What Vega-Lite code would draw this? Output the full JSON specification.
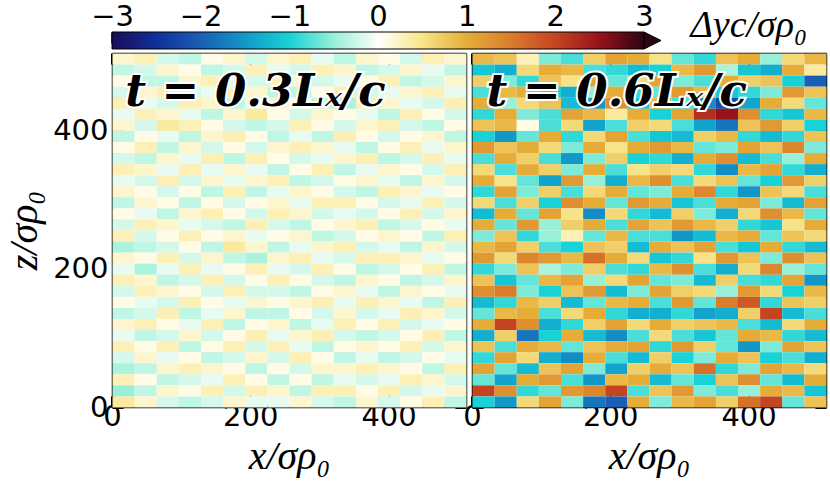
{
"$schema": "https://vega.github.io/schema/vega-lite/v6.json",
"background": "white",
"padding": {"left": 4, "top": 2, "right": 2, "bottom": 2},
"bounds": "flush",
"spacing": 4,
"config": {
  "view": {"stroke": null},
  "axis": {"zindex": 1, "domainColor": "black", "domainWidth": 1.5, "tickColor": "black", "grid": false, "labelFont": "DejaVu Sans", "labelFontSize": 29, "labelColor": "black", "titleFont": "Liberation Serif", "titleFontStyle": "italic", "titleFontWeight": "normal", "titleFontSize": 40, "titleColor": "black", "labelFlush": false, "labelOverlap": false}
},
"datasets": {
"L": [
{"x":16,"z":504,"v":0.2},{"x":48,"z":504,"v":0.3},{"x":80,"z":504,"v":-0.2},{"x":112,"z":504,"v":-0.3},{"x":144,"z":504,"v":0.1},{"x":176,"z":504,"v":0.2},{"x":208,"z":504,"v":-0.2},{"x":240,"z":504,"v":0.2},{"x":272,"z":504,"v":0.3},{"x":304,"z":504,"v":-0.1},{"x":336,"z":504,"v":-0.3},{"x":368,"z":504,"v":0.2},{"x":400,"z":504,"v":0.1},{"x":432,"z":504,"v":-0.2},{"x":464,"z":504,"v":0.3},{"x":496,"z":504,"v":0.2},
{"x":16,"z":488,"v":-0.3},{"x":48,"z":488,"v":-0.2},{"x":80,"z":488,"v":0.2},{"x":112,"z":488,"v":0.1},{"x":144,"z":488,"v":-0.3},{"x":176,"z":488,"v":-0.2},{"x":208,"z":488,"v":0.3},{"x":240,"z":488,"v":-0.1},{"x":272,"z":488,"v":-0.2},{"x":304,"z":488,"v":0.3},{"x":336,"z":488,"v":0.2},{"x":368,"z":488,"v":-0.3},{"x":400,"z":488,"v":-0.2},{"x":432,"z":488,"v":0.2},{"x":464,"z":488,"v":-0.1},{"x":496,"z":488,"v":-0.3},
{"x":16,"z":472,"v":0.1},{"x":48,"z":472,"v":-0.3},{"x":80,"z":472,"v":-0.3},{"x":112,"z":472,"v":0.2},{"x":144,"z":472,"v":0.3},{"x":176,"z":472,"v":-0.1},{"x":208,"z":472,"v":-0.2},{"x":240,"z":472,"v":0.3},{"x":272,"z":472,"v":0.2},{"x":304,"z":472,"v":-0.2},{"x":336,"z":472,"v":-0.1},{"x":368,"z":472,"v":0.1},{"x":400,"z":472,"v":0.3},{"x":432,"z":472,"v":-0.3},{"x":464,"z":472,"v":-0.2},{"x":496,"z":472,"v":0.2},
{"x":16,"z":456,"v":-0.2},{"x":48,"z":456,"v":0.2},{"x":80,"z":456,"v":0.3},{"x":112,"z":456,"v":-0.2},{"x":144,"z":456,"v":-0.1},{"x":176,"z":456,"v":0.3},{"x":208,"z":456,"v":0.2},{"x":240,"z":456,"v":-0.3},{"x":272,"z":456,"v":-0.3},{"x":304,"z":456,"v":0.1},{"x":336,"z":456,"v":0.3},{"x":368,"z":456,"v":-0.2},{"x":400,"z":456,"v":-0.1},{"x":432,"z":456,"v":0.2},{"x":464,"z":456,"v":0.3},{"x":496,"z":456,"v":-0.1},
{"x":16,"z":440,"v":0.3},{"x":48,"z":440,"v":-0.1},{"x":80,"z":440,"v":-0.2},{"x":112,"z":440,"v":0.3},{"x":144,"z":440,"v":0.2},{"x":176,"z":440,"v":-0.3},{"x":208,"z":440,"v":-0.1},{"x":240,"z":440,"v":0.2},{"x":272,"z":440,"v":0.1},{"x":304,"z":440,"v":-0.3},{"x":336,"z":440,"v":-0.4},{"x":368,"z":440,"v":0.3},{"x":400,"z":440,"v":0.2},{"x":432,"z":440,"v":-0.1},{"x":464,"z":440,"v":-0.2},{"x":496,"z":440,"v":0.3},
{"x":16,"z":424,"v":-0.1},{"x":48,"z":424,"v":0.3},{"x":80,"z":424,"v":0.2},{"x":112,"z":424,"v":-0.1},{"x":144,"z":424,"v":-0.3},{"x":176,"z":424,"v":0.2},{"x":208,"z":424,"v":0.4},{"x":240,"z":424,"v":0.1},{"x":272,"z":424,"v":-0.2},{"x":304,"z":424,"v":0.2},{"x":336,"z":424,"v":0.1},{"x":368,"z":424,"v":-0.1},{"x":400,"z":424,"v":-0.3},{"x":432,"z":424,"v":0.3},{"x":464,"z":424,"v":0.1},{"x":496,"z":424,"v":-0.2},
{"x":16,"z":408,"v":0.2},{"x":48,"z":408,"v":-0.2},{"x":80,"z":408,"v":0.4},{"x":112,"z":408,"v":0.3},{"x":144,"z":408,"v":0.1},{"x":176,"z":408,"v":-0.2},{"x":208,"z":408,"v":-0.3},{"x":240,"z":408,"v":-0.2},{"x":272,"z":408,"v":0.3},{"x":304,"z":408,"v":0.1},{"x":336,"z":408,"v":-0.2},{"x":368,"z":408,"v":0.2},{"x":400,"z":408,"v":0.3},{"x":432,"z":408,"v":-0.2},{"x":464,"z":408,"v":-0.3},{"x":496,"z":408,"v":0.1},
{"x":16,"z":392,"v":-0.3},{"x":48,"z":392,"v":0.1},{"x":80,"z":392,"v":-0.1},{"x":112,"z":392,"v":-0.3},{"x":144,"z":392,"v":0.2},{"x":176,"z":392,"v":0.3},{"x":208,"z":392,"v":0.1},{"x":240,"z":392,"v":-0.3},{"x":272,"z":392,"v":-0.1},{"x":304,"z":392,"v":-0.3},{"x":336,"z":392,"v":0.3},{"x":368,"z":392,"v":0.1},{"x":400,"z":392,"v":-0.2},{"x":432,"z":392,"v":0.1},{"x":464,"z":392,"v":0.2},{"x":496,"z":392,"v":-0.3},
{"x":16,"z":376,"v":0.1},{"x":48,"z":376,"v":0.3},{"x":80,"z":376,"v":-0.3},{"x":112,"z":376,"v":0.2},{"x":144,"z":376,"v":-0.2},{"x":176,"z":376,"v":0.1},{"x":208,"z":376,"v":-0.2},{"x":240,"z":376,"v":0.2},{"x":272,"z":376,"v":0.3},{"x":304,"z":376,"v":0.2},{"x":336,"z":376,"v":-0.1},{"x":368,"z":376,"v":-0.3},{"x":400,"z":376,"v":0.1},{"x":432,"z":376,"v":0.3},{"x":464,"z":376,"v":-0.1},{"x":496,"z":376,"v":0.2},
{"x":16,"z":360,"v":-0.2},{"x":48,"z":360,"v":-0.3},{"x":80,"z":360,"v":0.2},{"x":112,"z":360,"v":-0.1},{"x":144,"z":360,"v":0.3},{"x":176,"z":360,"v":-0.3},{"x":208,"z":360,"v":0.3},{"x":240,"z":360,"v":0.1},{"x":272,"z":360,"v":-0.2},{"x":304,"z":360,"v":-0.1},{"x":336,"z":360,"v":0.2},{"x":368,"z":360,"v":0.3},{"x":400,"z":360,"v":-0.3},{"x":432,"z":360,"v":-0.2},{"x":464,"z":360,"v":0.3},{"x":496,"z":360,"v":-0.1},
{"x":16,"z":344,"v":0.3},{"x":48,"z":344,"v":0.2},{"x":80,"z":344,"v":-0.1},{"x":112,"z":344,"v":0.3},{"x":144,"z":344,"v":-0.1},{"x":176,"z":344,"v":0.2},{"x":208,"z":344,"v":-0.1},{"x":240,"z":344,"v":-0.3},{"x":272,"z":344,"v":0.1},{"x":304,"z":344,"v":0.3},{"x":336,"z":344,"v":-0.3},{"x":368,"z":344,"v":-0.1},{"x":400,"z":344,"v":0.2},{"x":432,"z":344,"v":0.1},{"x":464,"z":344,"v":-0.2},{"x":496,"z":344,"v":0.3},
{"x":16,"z":328,"v":-0.1},{"x":48,"z":328,"v":-0.2},{"x":80,"z":328,"v":0.3},{"x":112,"z":328,"v":-0.2},{"x":144,"z":328,"v":0.2},{"x":176,"z":328,"v":-0.1},{"x":208,"z":328,"v":0.2},{"x":240,"z":328,"v":0.3},{"x":272,"z":328,"v":-0.3},{"x":304,"z":328,"v":-0.2},{"x":336,"z":328,"v":0.1},{"x":368,"z":328,"v":0.2},{"x":400,"z":328,"v":-0.1},{"x":432,"z":328,"v":-0.3},{"x":464,"z":328,"v":0.2},{"x":496,"z":328,"v":-0.2},
{"x":16,"z":312,"v":0.2},{"x":48,"z":312,"v":0.1},{"x":80,"z":312,"v":-0.2},{"x":112,"z":312,"v":0.1},{"x":144,"z":312,"v":-0.3},{"x":176,"z":312,"v":0.3},{"x":208,"z":312,"v":-0.3},{"x":240,"z":312,"v":-0.1},{"x":272,"z":312,"v":0.2},{"x":304,"z":312,"v":0.1},{"x":336,"z":312,"v":-0.2},{"x":368,"z":312,"v":-0.3},{"x":400,"z":312,"v":0.3},{"x":432,"z":312,"v":0.2},{"x":464,"z":312,"v":-0.1},{"x":496,"z":312,"v":0.1},
{"x":16,"z":296,"v":-0.3},{"x":48,"z":296,"v":0.2},{"x":80,"z":296,"v":0.1},{"x":112,"z":296,"v":-0.3},{"x":144,"z":296,"v":0.1},{"x":176,"z":296,"v":-0.2},{"x":208,"z":296,"v":0.1},{"x":240,"z":296,"v":0.2},{"x":272,"z":296,"v":-0.1},{"x":304,"z":296,"v":0.3},{"x":336,"z":296,"v":0.3},{"x":368,"z":296,"v":0.1},{"x":400,"z":296,"v":-0.2},{"x":432,"z":296,"v":-0.1},{"x":464,"z":296,"v":0.3},{"x":496,"z":296,"v":-0.2},
{"x":16,"z":280,"v":0.1},{"x":48,"z":280,"v":-0.1},{"x":80,"z":280,"v":-0.3},{"x":112,"z":280,"v":0.2},{"x":144,"z":280,"v":0.3},{"x":176,"z":280,"v":0.1},{"x":208,"z":280,"v":-0.2},{"x":240,"z":280,"v":0.3},{"x":272,"z":280,"v":0.2},{"x":304,"z":280,"v":-0.2},{"x":336,"z":280,"v":-0.1},{"x":368,"z":280,"v":-0.2},{"x":400,"z":280,"v":0.1},{"x":432,"z":280,"v":0.3},{"x":464,"z":280,"v":-0.2},{"x":496,"z":280,"v":0.2},
{"x":16,"z":264,"v":-0.2},{"x":48,"z":264,"v":0.3},{"x":80,"z":264,"v":0.2},{"x":112,"z":264,"v":-0.1},{"x":144,"z":264,"v":-0.2},{"x":176,"z":264,"v":-0.3},{"x":208,"z":264,"v":0.3},{"x":240,"z":264,"v":-0.2},{"x":272,"z":264,"v":-0.3},{"x":304,"z":264,"v":0.1},{"x":336,"z":264,"v":0.2},{"x":368,"z":264,"v":0.3},{"x":400,"z":264,"v":-0.3},{"x":432,"z":264,"v":-0.2},{"x":464,"z":264,"v":0.1},{"x":496,"z":264,"v":-0.1},
{"x":16,"z":248,"v":0.3},{"x":48,"z":248,"v":-0.2},{"x":80,"z":248,"v":0.1},{"x":112,"z":248,"v":0.3},{"x":144,"z":248,"v":0.1},{"x":176,"z":248,"v":0.2},{"x":208,"z":248,"v":-0.1},{"x":240,"z":248,"v":0.1},{"x":272,"z":248,"v":0.2},{"x":304,"z":248,"v":-0.3},{"x":336,"z":248,"v":-0.2},{"x":368,"z":248,"v":0.1},{"x":400,"z":248,"v":0.2},{"x":432,"z":248,"v":0.1},{"x":464,"z":248,"v":-0.3},{"x":496,"z":248,"v":0.3},
{"x":16,"z":232,"v":-0.4},{"x":48,"z":232,"v":-0.3},{"x":80,"z":232,"v":-0.2},{"x":112,"z":232,"v":0.1},{"x":144,"z":232,"v":-0.3},{"x":176,"z":232,"v":0.4},{"x":208,"z":232,"v":0.2},{"x":240,"z":232,"v":-0.3},{"x":272,"z":232,"v":-0.1},{"x":304,"z":232,"v":0.2},{"x":336,"z":232,"v":0.3},{"x":368,"z":232,"v":-0.2},{"x":400,"z":232,"v":-0.1},{"x":432,"z":232,"v":-0.3},{"x":464,"z":232,"v":0.2},{"x":496,"z":232,"v":-0.2},
{"x":16,"z":216,"v":0.2},{"x":48,"z":216,"v":0.1},{"x":80,"z":216,"v":0.3},{"x":112,"z":216,"v":-0.2},{"x":144,"z":216,"v":0.2},{"x":176,"z":216,"v":-0.3},{"x":208,"z":216,"v":-0.4},{"x":240,"z":216,"v":0.2},{"x":272,"z":216,"v":0.3},{"x":304,"z":216,"v":-0.1},{"x":336,"z":216,"v":-0.2},{"x":368,"z":216,"v":0.3},{"x":400,"z":216,"v":0.3},{"x":432,"z":216,"v":0.2},{"x":464,"z":216,"v":-0.1},{"x":496,"z":216,"v":0.1},
{"x":16,"z":200,"v":-0.1},{"x":48,"z":200,"v":-0.4},{"x":80,"z":200,"v":-0.1},{"x":112,"z":200,"v":0.3},{"x":144,"z":200,"v":-0.1},{"x":176,"z":200,"v":0.1},{"x":208,"z":200,"v":0.3},{"x":240,"z":200,"v":-0.1},{"x":272,"z":200,"v":-0.2},{"x":304,"z":200,"v":0.3},{"x":336,"z":200,"v":0.1},{"x":368,"z":200,"v":-0.3},{"x":400,"z":200,"v":-0.2},{"x":432,"z":200,"v":0.1},{"x":464,"z":200,"v":0.3},{"x":496,"z":200,"v":-0.3},
{"x":16,"z":184,"v":0.3},{"x":48,"z":184,"v":0.2},{"x":80,"z":184,"v":-0.3},{"x":112,"z":184,"v":-0.2},{"x":144,"z":184,"v":0.3},{"x":176,"z":184,"v":-0.2},{"x":208,"z":184,"v":0.1},{"x":240,"z":184,"v":0.3},{"x":272,"z":184,"v":0.1},{"x":304,"z":184,"v":-0.2},{"x":336,"z":184,"v":-0.3},{"x":368,"z":184,"v":0.2},{"x":400,"z":184,"v":0.1},{"x":432,"z":184,"v":-0.3},{"x":464,"z":184,"v":-0.2},{"x":496,"z":184,"v":0.2},
{"x":16,"z":168,"v":-0.2},{"x":48,"z":168,"v":0.3},{"x":80,"z":168,"v":0.2},{"x":112,"z":168,"v":0.1},{"x":144,"z":168,"v":-0.2},{"x":176,"z":168,"v":0.3},{"x":208,"z":168,"v":-0.2},{"x":240,"z":168,"v":-0.2},{"x":272,"z":168,"v":-0.3},{"x":304,"z":168,"v":0.1},{"x":336,"z":168,"v":0.2},{"x":368,"z":168,"v":-0.1},{"x":400,"z":168,"v":-0.3},{"x":432,"z":168,"v":0.2},{"x":464,"z":168,"v":0.1},{"x":496,"z":168,"v":-0.1},
{"x":16,"z":152,"v":0.1},{"x":48,"z":152,"v":-0.1},{"x":80,"z":152,"v":-0.2},{"x":112,"z":152,"v":0.3},{"x":144,"z":152,"v":0.1},{"x":176,"z":152,"v":-0.1},{"x":208,"z":152,"v":0.2},{"x":240,"z":152,"v":0.1},{"x":272,"z":152,"v":0.2},{"x":304,"z":152,"v":0.3},{"x":336,"z":152,"v":-0.1},{"x":368,"z":152,"v":0.3},{"x":400,"z":152,"v":0.2},{"x":432,"z":152,"v":-0.1},{"x":464,"z":152,"v":-0.3},{"x":496,"z":152,"v":0.3},
{"x":16,"z":136,"v":-0.3},{"x":48,"z":136,"v":-0.2},{"x":80,"z":136,"v":0.3},{"x":112,"z":136,"v":-0.3},{"x":144,"z":136,"v":-0.1},{"x":176,"z":136,"v":0.2},{"x":208,"z":136,"v":-0.3},{"x":240,"z":136,"v":-0.3},{"x":272,"z":136,"v":0.1},{"x":304,"z":136,"v":-0.2},{"x":336,"z":136,"v":0.2},{"x":368,"z":136,"v":-0.2},{"x":400,"z":136,"v":-0.1},{"x":432,"z":136,"v":0.3},{"x":464,"z":136,"v":0.2},{"x":496,"z":136,"v":-0.2},
{"x":16,"z":120,"v":0.2},{"x":48,"z":120,"v":0.3},{"x":80,"z":120,"v":0.1},{"x":112,"z":120,"v":-0.1},{"x":144,"z":120,"v":0.3},{"x":176,"z":120,"v":-0.3},{"x":208,"z":120,"v":0.1},{"x":240,"z":120,"v":0.2},{"x":272,"z":120,"v":-0.3},{"x":304,"z":120,"v":-0.1},{"x":336,"z":120,"v":0.3},{"x":368,"z":120,"v":0.1},{"x":400,"z":120,"v":0.3},{"x":432,"z":120,"v":-0.2},{"x":464,"z":120,"v":-0.1},{"x":496,"z":120,"v":0.1},
{"x":16,"z":104,"v":-0.1},{"x":48,"z":104,"v":-0.3},{"x":80,"z":104,"v":-0.2},{"x":112,"z":104,"v":0.2},{"x":144,"z":104,"v":-0.2},{"x":176,"z":104,"v":0.1},{"x":208,"z":104,"v":0.3},{"x":240,"z":104,"v":-0.1},{"x":272,"z":104,"v":0.2},{"x":304,"z":104,"v":0.3},{"x":336,"z":104,"v":-0.2},{"x":368,"z":104,"v":-0.3},{"x":400,"z":104,"v":-0.2},{"x":432,"z":104,"v":0.1},{"x":464,"z":104,"v":0.3},{"x":496,"z":104,"v":-0.3},
{"x":16,"z":88,"v":0.3},{"x":48,"z":88,"v":0.1},{"x":80,"z":88,"v":0.3},{"x":112,"z":88,"v":-0.3},{"x":144,"z":88,"v":0.1},{"x":176,"z":88,"v":0.3},{"x":208,"z":88,"v":-0.2},{"x":240,"z":88,"v":0.3},{"x":272,"z":88,"v":-0.1},{"x":304,"z":88,"v":-0.3},{"x":336,"z":88,"v":0.1},{"x":368,"z":88,"v":0.2},{"x":400,"z":88,"v":0.1},{"x":432,"z":88,"v":0.3},{"x":464,"z":88,"v":-0.2},{"x":496,"z":88,"v":0.2},
{"x":16,"z":72,"v":-0.2},{"x":48,"z":72,"v":0.2},{"x":80,"z":72,"v":-0.1},{"x":112,"z":72,"v":0.1},{"x":144,"z":72,"v":-0.3},{"x":176,"z":72,"v":-0.2},{"x":208,"z":72,"v":0.2},{"x":240,"z":72,"v":-0.2},{"x":272,"z":72,"v":0.3},{"x":304,"z":72,"v":0.1},{"x":336,"z":72,"v":-0.3},{"x":368,"z":72,"v":-0.1},{"x":400,"z":72,"v":-0.3},{"x":432,"z":72,"v":-0.2},{"x":464,"z":72,"v":0.1},{"x":496,"z":72,"v":-0.1},
{"x":16,"z":56,"v":-0.4},{"x":48,"z":56,"v":-0.3},{"x":80,"z":56,"v":0.2},{"x":112,"z":56,"v":0.3},{"x":144,"z":56,"v":0.2},{"x":176,"z":56,"v":0.1},{"x":208,"z":56,"v":-0.3},{"x":240,"z":56,"v":0.1},{"x":272,"z":56,"v":-0.2},{"x":304,"z":56,"v":0.2},{"x":336,"z":56,"v":0.2},{"x":368,"z":56,"v":0.3},{"x":400,"z":56,"v":0.2},{"x":432,"z":56,"v":0.1},{"x":464,"z":56,"v":-0.3},{"x":496,"z":56,"v":0.3},
{"x":16,"z":40,"v":0.3},{"x":48,"z":40,"v":0.1},{"x":80,"z":40,"v":-0.3},{"x":112,"z":40,"v":-0.2},{"x":144,"z":40,"v":-0.1},{"x":176,"z":40,"v":0.3},{"x":208,"z":40,"v":0.1},{"x":240,"z":40,"v":-0.3},{"x":272,"z":40,"v":0.1},{"x":304,"z":40,"v":-0.3},{"x":336,"z":40,"v":-0.1},{"x":368,"z":40,"v":-0.2},{"x":400,"z":40,"v":-0.1},{"x":432,"z":40,"v":0.3},{"x":464,"z":40,"v":0.2},{"x":496,"z":40,"v":-0.2},
{"x":16,"z":24,"v":-0.5},{"x":48,"z":24,"v":-0.3},{"x":80,"z":24,"v":0.2},{"x":112,"z":24,"v":0.1},{"x":144,"z":24,"v":0.3},{"x":176,"z":24,"v":-0.2},{"x":208,"z":24,"v":0.3},{"x":240,"z":24,"v":0.2},{"x":272,"z":24,"v":-0.3},{"x":304,"z":24,"v":0.3},{"x":336,"z":24,"v":0.3},{"x":368,"z":24,"v":0.1},{"x":400,"z":24,"v":0.3},{"x":432,"z":24,"v":-0.2},{"x":464,"z":24,"v":-0.1},{"x":496,"z":24,"v":0.2},
{"x":16,"z":8,"v":0.4},{"x":48,"z":8,"v":0.2},{"x":80,"z":8,"v":-0.2},{"x":112,"z":8,"v":-0.3},{"x":144,"z":8,"v":-0.2},{"x":176,"z":8,"v":0.2},{"x":208,"z":8,"v":-0.1},{"x":240,"z":8,"v":-0.1},{"x":272,"z":8,"v":0.2},{"x":304,"z":8,"v":-0.2},{"x":336,"z":8,"v":-0.3},{"x":368,"z":8,"v":0.2},{"x":400,"z":8,"v":-0.2},{"x":432,"z":8,"v":0.1},{"x":464,"z":8,"v":0.3},{"x":496,"z":8,"v":-0.3}
],
"R": [
{"x":16,"z":504,"v":0.9},{"x":48,"z":504,"v":0.8},{"x":80,"z":504,"v":0.3},{"x":112,"z":504,"v":-0.6},{"x":144,"z":504,"v":-0.8},{"x":176,"z":504,"v":0.7},{"x":208,"z":504,"v":1.1},{"x":240,"z":504,"v":1.0},{"x":272,"z":504,"v":0.5},{"x":304,"z":504,"v":-0.7},{"x":336,"z":504,"v":-0.9},{"x":368,"z":504,"v":0.8},{"x":400,"z":504,"v":1.0},{"x":432,"z":504,"v":-0.5},{"x":464,"z":504,"v":0.6},{"x":496,"z":504,"v":0.9},
{"x":16,"z":488,"v":-1.1},{"x":48,"z":488,"v":-1.3},{"x":80,"z":488,"v":0.6},{"x":112,"z":488,"v":1.0},{"x":144,"z":488,"v":0.9},{"x":176,"z":488,"v":-0.8},{"x":208,"z":488,"v":-0.9},{"x":240,"z":488,"v":-1.2},{"x":272,"z":488,"v":-1.0},{"x":304,"z":488,"v":0.9},{"x":336,"z":488,"v":1.2},{"x":368,"z":488,"v":-0.4},{"x":400,"z":488,"v":-1.1},{"x":432,"z":488,"v":-1.3},{"x":464,"z":488,"v":1.0},{"x":496,"z":488,"v":0.4},
{"x":16,"z":472,"v":0.7},{"x":48,"z":472,"v":-0.6},{"x":80,"z":472,"v":-0.9},{"x":112,"z":472,"v":0.8},{"x":144,"z":472,"v":0.5},{"x":176,"z":472,"v":1.1},{"x":208,"z":472,"v":-0.7},{"x":240,"z":472,"v":0.6},{"x":272,"z":472,"v":1.1},{"x":304,"z":472,"v":-0.6},{"x":336,"z":472,"v":-0.8},{"x":368,"z":472,"v":1.0},{"x":400,"z":472,"v":0.7},{"x":432,"z":472,"v":0.8},{"x":464,"z":472,"v":-1.0},{"x":496,"z":472,"v":-2.0},
{"x":16,"z":456,"v":-0.8},{"x":48,"z":456,"v":0.9},{"x":80,"z":456,"v":1.0},{"x":112,"z":456,"v":-1.0},{"x":144,"z":456,"v":-1.3},{"x":176,"z":456,"v":-0.5},{"x":208,"z":456,"v":1.0},{"x":240,"z":456,"v":-0.9},{"x":272,"z":456,"v":-0.7},{"x":304,"z":456,"v":1.2},{"x":336,"z":456,"v":0.9},{"x":368,"z":456,"v":-1.1},{"x":400,"z":456,"v":-0.9},{"x":432,"z":456,"v":-0.6},{"x":464,"z":456,"v":1.2},{"x":496,"z":456,"v":0.8},
{"x":16,"z":440,"v":1.0},{"x":48,"z":440,"v":-0.5},{"x":80,"z":440,"v":0.6},{"x":112,"z":440,"v":0.8},{"x":144,"z":440,"v":-1.2},{"x":176,"z":440,"v":-1.5},{"x":208,"z":440,"v":1.3},{"x":240,"z":440,"v":-1.1},{"x":272,"z":440,"v":0.9},{"x":304,"z":440,"v":-0.8},{"x":336,"z":440,"v":-1.6},{"x":368,"z":440,"v":-2.2},{"x":400,"z":440,"v":-1.4},{"x":432,"z":440,"v":1.0},{"x":464,"z":440,"v":0.6},{"x":496,"z":440,"v":-0.7},
{"x":16,"z":424,"v":-0.9},{"x":48,"z":424,"v":1.0},{"x":80,"z":424,"v":-0.6},{"x":112,"z":424,"v":-0.8},{"x":144,"z":424,"v":1.1},{"x":176,"z":424,"v":0.9},{"x":208,"z":424,"v":0.4},{"x":240,"z":424,"v":1.0},{"x":272,"z":424,"v":-1.0},{"x":304,"z":424,"v":1.1},{"x":336,"z":424,"v":2.2},{"x":368,"z":424,"v":2.5},{"x":400,"z":424,"v":1.3},{"x":432,"z":424,"v":-0.9},{"x":464,"z":424,"v":-1.1},{"x":496,"z":424,"v":0.9},
{"x":16,"z":408,"v":0.8},{"x":48,"z":408,"v":0.9},{"x":80,"z":408,"v":0.1},{"x":112,"z":408,"v":-0.8},{"x":144,"z":408,"v":0.6},{"x":176,"z":408,"v":-1.4},{"x":208,"z":408,"v":-0.8},{"x":240,"z":408,"v":0.7},{"x":272,"z":408,"v":0.6},{"x":304,"z":408,"v":-0.8},{"x":336,"z":408,"v":-1.4},{"x":368,"z":408,"v":-1.8},{"x":400,"z":408,"v":0.8},{"x":432,"z":408,"v":1.2},{"x":464,"z":408,"v":0.7},{"x":496,"z":408,"v":-1.0},
{"x":16,"z":392,"v":-1.0},{"x":48,"z":392,"v":-1.5},{"x":80,"z":392,"v":-0.7},{"x":112,"z":392,"v":1.0},{"x":144,"z":392,"v":-0.9},{"x":176,"z":392,"v":0.6},{"x":208,"z":392,"v":1.1},{"x":240,"z":392,"v":-0.8},{"x":272,"z":392,"v":-1.1},{"x":304,"z":392,"v":-1.2},{"x":336,"z":392,"v":0.7},{"x":368,"z":392,"v":0.9},{"x":400,"z":392,"v":-0.9},{"x":432,"z":392,"v":-1.2},{"x":464,"z":392,"v":-0.9},{"x":496,"z":392,"v":0.8},
{"x":16,"z":376,"v":1.2},{"x":48,"z":376,"v":0.8},{"x":80,"z":376,"v":1.0},{"x":112,"z":376,"v":0.6},{"x":144,"z":376,"v":-0.6},{"x":176,"z":376,"v":1.0},{"x":208,"z":376,"v":0.5},{"x":240,"z":376,"v":1.0},{"x":272,"z":376,"v":1.2},{"x":304,"z":376,"v":0.9},{"x":336,"z":376,"v":-0.7},{"x":368,"z":376,"v":-0.6},{"x":400,"z":376,"v":1.1},{"x":432,"z":376,"v":0.8},{"x":464,"z":376,"v":1.4},{"x":496,"z":376,"v":-0.6},
{"x":16,"z":360,"v":-0.8},{"x":48,"z":360,"v":1.0},{"x":80,"z":360,"v":0.7},{"x":112,"z":360,"v":-0.8},{"x":144,"z":360,"v":-1.5},{"x":176,"z":360,"v":-0.6},{"x":208,"z":360,"v":0.7},{"x":240,"z":360,"v":-1.0},{"x":272,"z":360,"v":-0.9},{"x":304,"z":360,"v":-1.3},{"x":336,"z":360,"v":1.0},{"x":368,"z":360,"v":1.3},{"x":400,"z":360,"v":-1.2},{"x":432,"z":360,"v":-0.8},{"x":464,"z":360,"v":-0.5},{"x":496,"z":360,"v":1.0},
{"x":16,"z":344,"v":0.6},{"x":48,"z":344,"v":-0.8},{"x":80,"z":344,"v":1.0},{"x":112,"z":344,"v":0.7},{"x":144,"z":344,"v":-0.6},{"x":176,"z":344,"v":1.0},{"x":208,"z":344,"v":-0.8},{"x":240,"z":344,"v":0.5},{"x":272,"z":344,"v":0.7},{"x":304,"z":344,"v":0.6},{"x":336,"z":344,"v":-0.9},{"x":368,"z":344,"v":-1.6},{"x":400,"z":344,"v":0.9},{"x":432,"z":344,"v":1.1},{"x":464,"z":344,"v":-0.9},{"x":496,"z":344,"v":-1.3},
{"x":16,"z":328,"v":1.0},{"x":48,"z":328,"v":0.5},{"x":80,"z":328,"v":-0.7},{"x":112,"z":328,"v":-1.4},{"x":144,"z":328,"v":1.2},{"x":176,"z":328,"v":-0.5},{"x":208,"z":328,"v":-1.3},{"x":240,"z":328,"v":0.9},{"x":272,"z":328,"v":1.3},{"x":304,"z":328,"v":-0.8},{"x":336,"z":328,"v":0.6},{"x":368,"z":328,"v":0.8},{"x":400,"z":328,"v":-0.7},{"x":432,"z":328,"v":-1.0},{"x":464,"z":328,"v":1.2},{"x":496,"z":328,"v":0.7},
{"x":16,"z":312,"v":-0.9},{"x":48,"z":312,"v":1.1},{"x":80,"z":312,"v":-0.6},{"x":112,"z":312,"v":0.7},{"x":144,"z":312,"v":-0.8},{"x":176,"z":312,"v":0.6},{"x":208,"z":312,"v":1.0},{"x":240,"z":312,"v":-0.7},{"x":272,"z":312,"v":-0.6},{"x":304,"z":312,"v":1.0},{"x":336,"z":312,"v":1.4},{"x":368,"z":312,"v":-0.9},{"x":400,"z":312,"v":-1.5},{"x":432,"z":312,"v":0.8},{"x":464,"z":312,"v":0.6},{"x":496,"z":312,"v":-0.8},
{"x":16,"z":296,"v":0.6},{"x":48,"z":296,"v":-0.8},{"x":80,"z":296,"v":0.7},{"x":112,"z":296,"v":-1.0},{"x":144,"z":296,"v":1.3},{"x":176,"z":296,"v":1.0},{"x":208,"z":296,"v":-0.7},{"x":240,"z":296,"v":1.2},{"x":272,"z":296,"v":1.0},{"x":304,"z":296,"v":-1.1},{"x":336,"z":296,"v":-0.8},{"x":368,"z":296,"v":1.0},{"x":400,"z":296,"v":1.1},{"x":432,"z":296,"v":-0.6},{"x":464,"z":296,"v":-1.2},{"x":496,"z":296,"v":1.1},
{"x":16,"z":280,"v":-1.2},{"x":48,"z":280,"v":1.0},{"x":80,"z":280,"v":-0.7},{"x":112,"z":280,"v":1.1},{"x":144,"z":280,"v":0.5},{"x":176,"z":280,"v":-1.6},{"x":208,"z":280,"v":0.6},{"x":240,"z":280,"v":-0.9},{"x":272,"z":280,"v":-1.2},{"x":304,"z":280,"v":0.7},{"x":336,"z":280,"v":-0.6},{"x":368,"z":280,"v":-1.3},{"x":400,"z":280,"v":0.6},{"x":432,"z":280,"v":1.3},{"x":464,"z":280,"v":0.9},{"x":496,"z":280,"v":-0.7},
{"x":16,"z":264,"v":1.0},{"x":48,"z":264,"v":-0.7},{"x":80,"z":264,"v":1.2},{"x":112,"z":264,"v":-0.5},{"x":144,"z":264,"v":0.7},{"x":176,"z":264,"v":1.0},{"x":208,"z":264,"v":-0.8},{"x":240,"z":264,"v":1.1},{"x":272,"z":264,"v":0.8},{"x":304,"z":264,"v":1.2},{"x":336,"z":264,"v":0.9},{"x":368,"z":264,"v":0.7},{"x":400,"z":264,"v":-0.9},{"x":432,"z":264,"v":-1.1},{"x":464,"z":264,"v":0.5},{"x":496,"z":264,"v":1.0},
{"x":16,"z":248,"v":-0.6},{"x":48,"z":248,"v":0.8},{"x":80,"z":248,"v":-0.9},{"x":112,"z":248,"v":-0.5},{"x":144,"z":248,"v":0.3},{"x":176,"z":248,"v":-0.7},{"x":208,"z":248,"v":0.9},{"x":240,"z":248,"v":-0.8},{"x":272,"z":248,"v":-0.8},{"x":304,"z":248,"v":-1.5},{"x":336,"z":248,"v":-1.2},{"x":368,"z":248,"v":0.9},{"x":400,"z":248,"v":1.0},{"x":432,"z":248,"v":-0.7},{"x":464,"z":248,"v":0.8},{"x":496,"z":248,"v":0.6},
{"x":16,"z":232,"v":0.9},{"x":48,"z":232,"v":1.1},{"x":80,"z":232,"v":0.7},{"x":112,"z":232,"v":-0.8},{"x":144,"z":232,"v":-1.0},{"x":176,"z":232,"v":0.8},{"x":208,"z":232,"v":0.7},{"x":240,"z":232,"v":-1.2},{"x":272,"z":232,"v":1.0},{"x":304,"z":232,"v":0.8},{"x":336,"z":232,"v":1.1},{"x":368,"z":232,"v":-0.8},{"x":400,"z":232,"v":-1.1},{"x":432,"z":232,"v":1.0},{"x":464,"z":232,"v":-0.9},{"x":496,"z":232,"v":-1.2},
{"x":16,"z":216,"v":1.2},{"x":48,"z":216,"v":0.6},{"x":80,"z":216,"v":1.4},{"x":112,"z":216,"v":1.2},{"x":144,"z":216,"v":0.9},{"x":176,"z":216,"v":1.6},{"x":208,"z":216,"v":1.0},{"x":240,"z":216,"v":0.6},{"x":272,"z":216,"v":-1.1},{"x":304,"z":216,"v":-0.9},{"x":336,"z":216,"v":0.5},{"x":368,"z":216,"v":1.2},{"x":400,"z":216,"v":0.8},{"x":432,"z":216,"v":-0.6},{"x":464,"z":216,"v":1.3},{"x":496,"z":216,"v":0.8},
{"x":16,"z":200,"v":-0.9},{"x":48,"z":200,"v":-0.6},{"x":80,"z":200,"v":0.8},{"x":112,"z":200,"v":-0.4},{"x":144,"z":200,"v":-0.6},{"x":176,"z":200,"v":0.7},{"x":208,"z":200,"v":-0.8},{"x":240,"z":200,"v":-0.9},{"x":272,"z":200,"v":0.9},{"x":304,"z":200,"v":1.3},{"x":336,"z":200,"v":-0.8},{"x":368,"z":200,"v":-1.3},{"x":400,"z":200,"v":0.6},{"x":432,"z":200,"v":1.4},{"x":464,"z":200,"v":-0.5},{"x":496,"z":200,"v":-0.7},
{"x":16,"z":184,"v":0.8},{"x":48,"z":184,"v":-1.1},{"x":80,"z":184,"v":-0.7},{"x":112,"z":184,"v":0.9},{"x":144,"z":184,"v":1.1},{"x":176,"z":184,"v":-0.5},{"x":208,"z":184,"v":0.6},{"x":240,"z":184,"v":1.1},{"x":272,"z":184,"v":-0.7},{"x":304,"z":184,"v":-0.6},{"x":336,"z":184,"v":-1.2},{"x":368,"z":184,"v":0.7},{"x":400,"z":184,"v":-0.8},{"x":432,"z":184,"v":-0.9},{"x":464,"z":184,"v":1.1},{"x":496,"z":184,"v":-1.5},
{"x":16,"z":168,"v":1.3},{"x":48,"z":168,"v":1.5},{"x":80,"z":168,"v":-0.6},{"x":112,"z":168,"v":-1.0},{"x":144,"z":168,"v":0.8},{"x":176,"z":168,"v":1.2},{"x":208,"z":168,"v":-1.2},{"x":240,"z":168,"v":-0.6},{"x":272,"z":168,"v":1.1},{"x":304,"z":168,"v":0.7},{"x":336,"z":168,"v":0.6},{"x":368,"z":168,"v":-0.5},{"x":400,"z":168,"v":1.2},{"x":432,"z":168,"v":0.6},{"x":464,"z":168,"v":-1.0},{"x":496,"z":168,"v":0.9},
{"x":16,"z":152,"v":-1.2},{"x":48,"z":152,"v":-0.9},{"x":80,"z":152,"v":0.9},{"x":112,"z":152,"v":0.7},{"x":144,"z":152,"v":-1.2},{"x":176,"z":152,"v":-0.7},{"x":208,"z":152,"v":0.9},{"x":240,"z":152,"v":1.0},{"x":272,"z":152,"v":-0.8},{"x":304,"z":152,"v":1.2},{"x":336,"z":152,"v":-0.7},{"x":368,"z":152,"v":1.5},{"x":400,"z":152,"v":1.8},{"x":432,"z":152,"v":-0.9},{"x":464,"z":152,"v":0.8},{"x":496,"z":152,"v":0.7},
{"x":16,"z":136,"v":-0.7},{"x":48,"z":136,"v":0.9},{"x":80,"z":136,"v":1.0},{"x":112,"z":136,"v":-0.8},{"x":144,"z":136,"v":0.6},{"x":176,"z":136,"v":1.0},{"x":208,"z":136,"v":-0.9},{"x":240,"z":136,"v":-1.3},{"x":272,"z":136,"v":-1.3},{"x":304,"z":136,"v":-0.9},{"x":336,"z":136,"v":-1.4},{"x":368,"z":136,"v":-1.3},{"x":400,"z":136,"v":0.7},{"x":432,"z":136,"v":2.0},{"x":464,"z":136,"v":-1.2},{"x":496,"z":136,"v":-0.8},
{"x":16,"z":120,"v":1.0},{"x":48,"z":120,"v":2.0},{"x":80,"z":120,"v":1.3},{"x":112,"z":120,"v":-1.3},{"x":144,"z":120,"v":-0.9},{"x":176,"z":120,"v":0.7},{"x":208,"z":120,"v":1.1},{"x":240,"z":120,"v":0.6},{"x":272,"z":120,"v":1.0},{"x":304,"z":120,"v":0.7},{"x":336,"z":120,"v":0.8},{"x":368,"z":120,"v":0.9},{"x":400,"z":120,"v":-0.8},{"x":432,"z":120,"v":-1.2},{"x":464,"z":120,"v":0.6},{"x":496,"z":120,"v":1.0},
{"x":16,"z":104,"v":-1.3},{"x":48,"z":104,"v":0.7},{"x":80,"z":104,"v":-1.8},{"x":112,"z":104,"v":-1.0},{"x":144,"z":104,"v":1.0},{"x":176,"z":104,"v":-1.2},{"x":208,"z":104,"v":-1.6},{"x":240,"z":104,"v":-0.8},{"x":272,"z":104,"v":0.6},{"x":304,"z":104,"v":-0.8},{"x":336,"z":104,"v":-1.1},{"x":368,"z":104,"v":-0.7},{"x":400,"z":104,"v":1.0},{"x":432,"z":104,"v":0.9},{"x":464,"z":104,"v":-0.9},{"x":496,"z":104,"v":-1.2},
{"x":16,"z":88,"v":0.8},{"x":48,"z":88,"v":-0.8},{"x":80,"z":88,"v":1.0},{"x":112,"z":88,"v":0.9},{"x":144,"z":88,"v":-0.7},{"x":176,"z":88,"v":0.8},{"x":208,"z":88,"v":1.0},{"x":240,"z":88,"v":1.1},{"x":272,"z":88,"v":-0.9},{"x":304,"z":88,"v":1.2},{"x":336,"z":88,"v":0.7},{"x":368,"z":88,"v":-0.7},{"x":400,"z":88,"v":-1.5},{"x":432,"z":88,"v":-0.6},{"x":464,"z":88,"v":1.1},{"x":496,"z":88,"v":0.8},
{"x":16,"z":72,"v":-0.9},{"x":48,"z":72,"v":1.1},{"x":80,"z":72,"v":0.6},{"x":112,"z":72,"v":-1.3},{"x":144,"z":72,"v":-1.6},{"x":176,"z":72,"v":1.0},{"x":208,"z":72,"v":-0.8},{"x":240,"z":72,"v":-1.2},{"x":272,"z":72,"v":0.7},{"x":304,"z":72,"v":-1.0},{"x":336,"z":72,"v":-0.6},{"x":368,"z":72,"v":1.0},{"x":400,"z":72,"v":0.8},{"x":432,"z":72,"v":-1.0},{"x":464,"z":72,"v":-0.8},{"x":496,"z":72,"v":-1.3},
{"x":16,"z":56,"v":1.1},{"x":48,"z":56,"v":-0.7},{"x":80,"z":56,"v":-1.2},{"x":112,"z":56,"v":0.8},{"x":144,"z":56,"v":1.1},{"x":176,"z":56,"v":-0.6},{"x":208,"z":56,"v":-1.4},{"x":240,"z":56,"v":0.7},{"x":272,"z":56,"v":1.0},{"x":304,"z":56,"v":0.8},{"x":336,"z":56,"v":1.6},{"x":368,"z":56,"v":-0.9},{"x":400,"z":56,"v":-0.6},{"x":432,"z":56,"v":1.1},{"x":464,"z":56,"v":0.9},{"x":496,"z":56,"v":0.6},
{"x":16,"z":40,"v":-0.7},{"x":48,"z":40,"v":-1.4},{"x":80,"z":40,"v":1.0},{"x":112,"z":40,"v":1.2},{"x":144,"z":40,"v":-0.8},{"x":176,"z":40,"v":-1.5},{"x":208,"z":40,"v":0.9},{"x":240,"z":40,"v":1.0},{"x":272,"z":40,"v":-1.2},{"x":304,"z":40,"v":-0.7},{"x":336,"z":40,"v":-1.0},{"x":368,"z":40,"v":0.8},{"x":400,"z":40,"v":1.3},{"x":432,"z":40,"v":-0.7},{"x":464,"z":40,"v":-1.2},{"x":496,"z":40,"v":1.0},
{"x":16,"z":24,"v":2.0},{"x":48,"z":24,"v":1.3},{"x":80,"z":24,"v":-0.9},{"x":112,"z":24,"v":-0.7},{"x":144,"z":24,"v":1.2},{"x":176,"z":24,"v":1.4},{"x":208,"z":24,"v":2.0},{"x":240,"z":24,"v":-0.8},{"x":272,"z":24,"v":0.8},{"x":304,"z":24,"v":1.2},{"x":336,"z":24,"v":-0.6},{"x":368,"z":24,"v":-0.8},{"x":400,"z":24,"v":-0.5},{"x":432,"z":24,"v":1.0},{"x":464,"z":24,"v":0.9},{"x":496,"z":24,"v":-1.1},
{"x":16,"z":8,"v":-1.0},{"x":48,"z":8,"v":-1.5},{"x":80,"z":8,"v":0.6},{"x":112,"z":8,"v":1.1},{"x":144,"z":8,"v":-0.6},{"x":176,"z":8,"v":-1.8},{"x":208,"z":8,"v":-2.0},{"x":240,"z":8,"v":1.0},{"x":272,"z":8,"v":-0.6},{"x":304,"z":8,"v":0.9},{"x":336,"z":8,"v":1.1},{"x":368,"z":8,"v":0.7},{"x":400,"z":8,"v":1.6},{"x":432,"z":8,"v":2.0},{"x":464,"z":8,"v":-0.7},{"x":496,"z":8,"v":0.8}
]
},
"vconcat": [
  {
    "width": 532, "height": 17,
    "layer": [
      {
        "data": {"values": [{"a": -3, "b": 3}]},
        "mark": {"type": "rect", "stroke": "black", "strokeWidth": 1,
          "fill": {"gradient": "linear", "x1": 0, "x2": 1, "y1": 0, "y2": 0, "stops": [
            {"offset": 0, "color": "#1b0c5c"}, {"offset": 0.0833, "color": "#10309a"}, {"offset": 0.1667, "color": "#1a5fb5"}, {"offset": 0.25, "color": "#1198c9"}, {"offset": 0.3333, "color": "#18d2d8"}, {"offset": 0.4167, "color": "#98f0d8"}, {"offset": 0.4833, "color": "#e8fbf0"}, {"offset": 0.5, "color": "#ffffff"}, {"offset": 0.5167, "color": "#fffbe4"}, {"offset": 0.5833, "color": "#f8e488"}, {"offset": 0.6667, "color": "#e5ad37"}, {"offset": 0.75, "color": "#da7c2c"}, {"offset": 0.8333, "color": "#c44422"}, {"offset": 0.9167, "color": "#98121a"}, {"offset": 1, "color": "#2a0512"}]}},
        "encoding": {
          "x": {"field": "a", "type": "quantitative", "scale": {"domain": [-3, 3], "nice": false, "zero": false},
            "axis": {"orient": "top", "values": [-3,-2,-1,0,1,2,3], "format": "d", "labelOverlap": false, "domain": false,
              "tickSize": -11, "tickWidth": 2.5, "tickColor": "black", "labelPadding": 12,
              "title": "Δyc/σρ₀", "titleFontSize": 38, "titleX": 578, "titleY": 4, "titleAlign": "left", "titleBaseline": "alphabetic", "titleAngle": 0}},
          "x2": {"field": "b"},
          "y": {"datum": 0, "type": "quantitative", "scale": {"domain": [0, 1], "nice": false, "zero": false}, "axis": null},
          "y2": {"datum": 1}
        }
      },
      {
        "data": {"values": [{"c": 3.096}]},
        "mark": {"type": "point", "shape": "M -1 -1 L 1 0 L -1 1 Z", "filled": true, "fill": "#2a0512", "stroke": "black", "strokeWidth": 1, "size": 289, "opacity": 1},
        "encoding": {
          "x": {"field": "c", "type": "quantitative", "scale": {"domain": [-3, 3], "nice": false, "zero": false},
            "axis": {"orient": "bottom", "offset": -17, "values": [-2.8,-2.6,-2.4,-2.2,-1.8,-1.6,-1.4,-1.2,-0.8,-0.6,-0.4,-0.2,0.2,0.4,0.6,0.8,1.2,1.4,1.6,1.8,2.2,2.4,2.6,2.8], "labels": false, "domain": false, "tickSize": 6, "tickWidth": 1.5, "tickColor": "black", "title": null}},
          "y": {"datum": 0.5, "type": "quantitative"}
        }
      }
    ],
    "resolve": {"scale": {"x": "independent"}}
  },
  {
    "bounds": "flush",
    "spacing": 6,
    "hconcat": [
      {
        "width": 354, "height": 354,
        "layer": [
          {
            "data": {"name": "L"},
            "mark": {"type": "rect"},
            "encoding": {
              "x": {"field": "x", "type": "quantitative", "bin": {"step": 32, "extent": [0, 512]}, "scale": {"domain": [0, 512], "nice": false, "zero": false},
                "axis": {"orient": "bottom", "values": [0,50,100,150,200,250,300,350,400,450,500], "labelExpr": "datum.value % 200 === 0 ? datum.label : ''",
                  "tickSize": {"condition": {"test": "datum.value % 200 === 0", "value": -11}, "value": -6},
                  "tickWidth": {"condition": {"test": "datum.value % 200 === 0", "value": 3}, "value": 1.5},
                  "labelPadding": 6, "title": "x/σρ₀", "titlePadding": 0}},
              "y": {"field": "z", "type": "quantitative", "bin": {"step": 16, "extent": [0, 512]}, "scale": {"domain": [0, 512], "nice": false, "zero": false},
                "axis": {"orient": "left", "values": [0,50,100,150,200,250,300,350,400,450,500], "labelExpr": "datum.value % 200 === 0 ? datum.label : ''",
                  "tickSize": {"condition": {"test": "datum.value % 200 === 0", "value": -11}, "value": -6},
                  "tickWidth": {"condition": {"test": "datum.value % 200 === 0", "value": 3}, "value": 1.5},
                  "labelPadding": 15, "title": "z/σρ₀", "titlePadding": 8}},
              "color": {"field": "v", "type": "quantitative", "legend": null,
                "scale": {"domain": [-3,-2.5,-2,-1.5,-1,-0.5,-0.1,0,0.1,0.5,1,1.5,2,2.5,3], "range": ["#1b0c5c","#10309a","#1a5fb5","#1198c9","#18d2d8","#98f0d8","#e8fbf0","#ffffff","#fffbe4","#f8e488","#e5ad37","#da7c2c","#c44422","#98121a","#2a0512"], "clamp": true, "interpolate": "rgb"}}
            }
          },
          {
            "data": {"values": [{"x": 19, "z": 436, "t": "t = 0.3Lₓ/c"}]},
            "encoding": {
              "x": {"field": "x", "type": "quantitative", "scale": {"domain": [0, 512], "nice": false, "zero": false},
                "axis": {"orient": "top", "values": [0,50,100,150,200,250,300,350,400,450,500], "labels": false, "title": null,
                  "tickSize": {"condition": {"test": "datum.value % 200 === 0", "value": -11}, "value": -6},
                  "tickWidth": {"condition": {"test": "datum.value % 200 === 0", "value": 3}, "value": 1.5}}},
              "y": {"field": "z", "type": "quantitative", "scale": {"domain": [0, 512], "nice": false, "zero": false},
                "axis": {"orient": "right", "values": [0,50,100,150,200,250,300,350,400,450,500], "labels": false, "title": null,
                  "tickSize": {"condition": {"test": "datum.value % 200 === 0", "value": -11}, "value": -6},
                  "tickWidth": {"condition": {"test": "datum.value % 200 === 0", "value": 3}, "value": 1.5}}},
              "text": {"field": "t"}
            },
            "layer": [
              {"mark": {"type": "text", "align": "left", "baseline": "alphabetic", "font": "DejaVu Serif", "fontStyle": "italic", "fontWeight": "bold", "fontSize": 45, "fill": "white", "stroke": "white", "strokeWidth": 4}},
              {"mark": {"type": "text", "align": "left", "baseline": "alphabetic", "font": "DejaVu Serif", "fontStyle": "italic", "fontWeight": "bold", "fontSize": 45, "fill": "black"}}
            ]
          }
        ],
        "resolve": {"scale": {"x": "independent", "y": "independent"}}
      },
      {
        "width": 354, "height": 354,
        "layer": [
          {
            "data": {"name": "R"},
            "mark": {"type": "rect"},
            "encoding": {
              "x": {"field": "x", "type": "quantitative", "bin": {"step": 32, "extent": [0, 512]}, "scale": {"domain": [0, 512], "nice": false, "zero": false},
                "axis": {"orient": "bottom", "values": [0,50,100,150,200,250,300,350,400,450,500], "labelExpr": "datum.value % 200 === 0 ? datum.label : ''",
                  "tickSize": {"condition": {"test": "datum.value % 200 === 0", "value": -11}, "value": -6},
                  "tickWidth": {"condition": {"test": "datum.value % 200 === 0", "value": 3}, "value": 1.5},
                  "labelPadding": 6, "title": "x/σρ₀", "titlePadding": 0}},
              "y": {"field": "z", "type": "quantitative", "bin": {"step": 16, "extent": [0, 512]}, "scale": {"domain": [0, 512], "nice": false, "zero": false},
                "axis": {"orient": "left", "values": [0,50,100,150,200,250,300,350,400,450,500], "labels": false, "title": null,
                  "tickSize": {"condition": {"test": "datum.value % 200 === 0", "value": -11}, "value": -6},
                  "tickWidth": {"condition": {"test": "datum.value % 200 === 0", "value": 3}, "value": 1.5}}},
              "color": {"field": "v", "type": "quantitative", "legend": null,
                "scale": {"domain": [-3,-2.5,-2,-1.5,-1,-0.5,-0.1,0,0.1,0.5,1,1.5,2,2.5,3], "range": ["#1b0c5c","#10309a","#1a5fb5","#1198c9","#18d2d8","#98f0d8","#e8fbf0","#ffffff","#fffbe4","#f8e488","#e5ad37","#da7c2c","#c44422","#98121a","#2a0512"], "clamp": true, "interpolate": "rgb"}}
            }
          },
          {
            "data": {"values": [{"x": 21, "z": 436, "t": "t = 0.6Lₓ/c"}]},
            "encoding": {
              "x": {"field": "x", "type": "quantitative", "scale": {"domain": [0, 512], "nice": false, "zero": false},
                "axis": {"orient": "top", "values": [0,50,100,150,200,250,300,350,400,450,500], "labels": false, "title": null,
                  "tickSize": {"condition": {"test": "datum.value % 200 === 0", "value": -11}, "value": -6},
                  "tickWidth": {"condition": {"test": "datum.value % 200 === 0", "value": 3}, "value": 1.5}}},
              "y": {"field": "z", "type": "quantitative", "scale": {"domain": [0, 512], "nice": false, "zero": false},
                "axis": {"orient": "right", "values": [0,50,100,150,200,250,300,350,400,450,500], "labels": false, "title": null,
                  "tickSize": {"condition": {"test": "datum.value % 200 === 0", "value": -11}, "value": -6},
                  "tickWidth": {"condition": {"test": "datum.value % 200 === 0", "value": 3}, "value": 1.5}}},
              "text": {"field": "t"}
            },
            "layer": [
              {"mark": {"type": "text", "align": "left", "baseline": "alphabetic", "font": "DejaVu Serif", "fontStyle": "italic", "fontWeight": "bold", "fontSize": 45, "fill": "white", "stroke": "white", "strokeWidth": 4}},
              {"mark": {"type": "text", "align": "left", "baseline": "alphabetic", "font": "DejaVu Serif", "fontStyle": "italic", "fontWeight": "bold", "fontSize": 45, "fill": "black"}}
            ]
          }
        ],
        "resolve": {"scale": {"x": "independent", "y": "independent"}}
      }
    ]
  }
]
}
